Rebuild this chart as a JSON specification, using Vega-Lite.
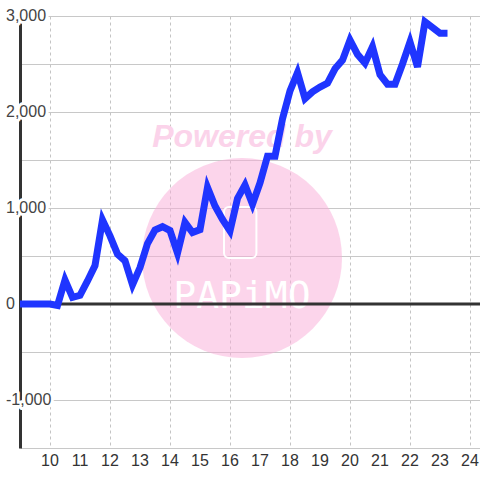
{
  "$schema": "https://vega.github.io/schema/vega-lite/v6.json",
  "width": 460,
  "height": 432,
  "autosize": {"type": "none"},
  "padding": {"left": 20, "top": 16, "right": 0, "bottom": 32},
  "background": "white",
  "config": {"view": {"stroke": null}},
  "datasets": {
    "series": [
      {"x": 9, "y": 0}, {"x": 9.25, "y": 0}, {"x": 9.5, "y": 0}, {"x": 9.75, "y": 0},
      {"x": 10, "y": 0}, {"x": 10.25, "y": -15}, {"x": 10.5, "y": 250}, {"x": 10.75, "y": 70},
      {"x": 11, "y": 90}, {"x": 11.25, "y": 240}, {"x": 11.5, "y": 400}, {"x": 11.75, "y": 875},
      {"x": 12, "y": 710}, {"x": 12.25, "y": 520}, {"x": 12.5, "y": 450}, {"x": 12.75, "y": 200},
      {"x": 13, "y": 380}, {"x": 13.25, "y": 630}, {"x": 13.5, "y": 770}, {"x": 13.75, "y": 805},
      {"x": 14, "y": 765}, {"x": 14.25, "y": 530}, {"x": 14.5, "y": 850}, {"x": 14.75, "y": 745},
      {"x": 15, "y": 775}, {"x": 15.25, "y": 1215}, {"x": 15.5, "y": 1020}, {"x": 15.75, "y": 880},
      {"x": 16, "y": 760}, {"x": 16.25, "y": 1100}, {"x": 16.5, "y": 1240}, {"x": 16.75, "y": 1040},
      {"x": 17, "y": 1260}, {"x": 17.25, "y": 1540}, {"x": 17.5, "y": 1540}, {"x": 17.75, "y": 1930},
      {"x": 18, "y": 2220}, {"x": 18.25, "y": 2410}, {"x": 18.5, "y": 2140}, {"x": 18.75, "y": 2210},
      {"x": 19, "y": 2260}, {"x": 19.25, "y": 2300}, {"x": 19.5, "y": 2450}, {"x": 19.75, "y": 2540},
      {"x": 20, "y": 2750}, {"x": 20.25, "y": 2600}, {"x": 20.5, "y": 2510}, {"x": 20.75, "y": 2680},
      {"x": 21, "y": 2390}, {"x": 21.25, "y": 2290}, {"x": 21.5, "y": 2290}, {"x": 21.75, "y": 2500},
      {"x": 22, "y": 2730}, {"x": 22.25, "y": 2470}, {"x": 22.5, "y": 2940}, {"x": 22.75, "y": 2880},
      {"x": 23, "y": 2820}, {"x": 23.25, "y": 2820}
    ],
    "ylabels": [{"v": 3000, "t": "3,000"}, {"v": 2000, "t": "2,000"}, {"v": 1000, "t": "1,000"}, {"v": 0, "t": "0"}, {"v": -1000, "t": "-1,000"}],
    "xlabels": [{"v": 10}, {"v": 11}, {"v": 12}, {"v": 13}, {"v": 14}, {"v": 15}, {"v": 16}, {"v": 17}, {"v": 18}, {"v": 19}, {"v": 20}, {"v": 21}, {"v": 22}, {"v": 23}, {"v": 24}]
  },
  "layer": [
    {
      "data": {"values": [{}]},
      "mark": {"type": "point", "shape": "circle", "filled": true, "size": 40000, "color": "#f9acd8", "opacity": 0.5},
      "encoding": {"x": {"datum": 16.4, "type": "quantitative"}, "y": {"datum": 479, "type": "quantitative"}}
    },
    {
      "data": {"values": [{"t": "Powered by"}]},
      "mark": {"type": "text", "font": "Liberation Sans", "fontSize": 32, "fontWeight": "bold", "fontStyle": "italic", "color": "#fbd3ea", "align": "center", "baseline": "alphabetic"},
      "encoding": {"text": {"field": "t"}, "x": {"datum": 16.4, "type": "quantitative"}, "y": {"datum": 1640, "type": "quantitative"}}
    },
    {
      "data": {"values": [{}]},
      "mark": {"type": "rect", "filled": false, "stroke": "white", "strokeWidth": 2, "cornerRadius": 5},
      "encoding": {"x": {"datum": 15.8, "type": "quantitative"}, "x2": {"datum": 16.88}, "y": {"datum": 1010, "type": "quantitative"}, "y2": {"datum": 479}}
    },
    {
      "data": {"values": [{"t": "PAPiMO"}]},
      "mark": {"type": "text", "font": "DejaVu Sans Mono", "fontSize": 38, "color": "white", "align": "center", "baseline": "alphabetic"},
      "encoding": {"text": {"field": "t"}, "x": {"datum": 16.4, "type": "quantitative"}, "y": {"datum": -40, "type": "quantitative"}}
    },
    {
      "data": {"values": [{}]},
      "mark": {"type": "rule", "color": "#333", "strokeWidth": 3},
      "encoding": {"y": {"datum": 0, "type": "quantitative"}}
    },
    {
      "data": {"name": "series"},
      "mark": {"type": "line", "color": "#1f35ff", "strokeWidth": 7, "strokeJoin": "miter"},
      "encoding": {
        "x": {"field": "x", "type": "quantitative", "scale": {"domain": [9, 24.3333], "nice": false, "zero": false},
          "axis": {"values": [10, 11, 12, 13, 14, 15, 16, 17, 18, 19, 20, 21, 22, 23, 24], "title": null, "domain": false, "ticks": false, "labels": false,
            "grid": true, "gridDash": [3, 3], "gridColor": "#c4c4c4", "gridWidth": 1}},
        "y": {"field": "y", "type": "quantitative", "scale": {"domain": [-1500, 3000], "nice": false, "zero": false},
          "axis": {"values": [-1500, -1000, -500, 0, 500, 1000, 1500, 2000, 2500, 3000], "title": null, "labels": false, "ticks": false,
            "domain": true, "domainColor": "#333", "domainWidth": 3, "grid": true, "gridColor": "#c8c8c8", "gridWidth": 1}}
      }
    },
    {
      "data": {"name": "xlabels"},
      "mark": {"type": "text", "font": "Liberation Sans", "fontSize": 16, "align": "center", "baseline": "top", "dy": 5, "color": "#333"},
      "encoding": {"x": {"field": "v", "type": "quantitative"}, "y": {"datum": -1500, "type": "quantitative"}, "text": {"field": "v", "type": "quantitative"}}
    },
    {
      "data": {"name": "ylabels"},
      "mark": {"type": "text", "font": "Liberation Sans", "fontSize": 16, "align": "left", "baseline": "middle", "dx": -14, "fill": "white", "stroke": "white", "strokeWidth": 6, "strokeJoin": "round"},
      "encoding": {"x": {"datum": 9, "type": "quantitative"}, "y": {"field": "v", "type": "quantitative"}, "text": {"field": "t"}}
    },
    {
      "data": {"name": "ylabels"},
      "mark": {"type": "text", "font": "Liberation Sans", "fontSize": 16, "align": "left", "baseline": "middle", "dx": -14, "color": "#444"},
      "encoding": {"x": {"datum": 9, "type": "quantitative"}, "y": {"field": "v", "type": "quantitative"}, "text": {"field": "t"}}
    }
  ]
}
